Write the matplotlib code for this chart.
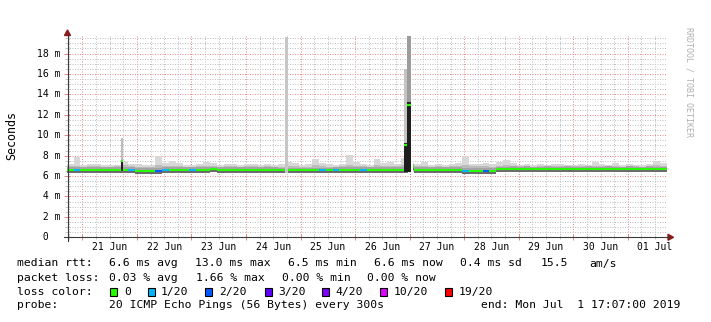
import numpy as np
import matplotlib
matplotlib.use("Agg")
import matplotlib.pyplot as plt
import matplotlib.transforms as mtransforms
from matplotlib.lines import Line2D
from matplotlib.patches import Rectangle, Polygon

# ---------------- data ----------------
start_h = -6.8833          # Jun 20 17:07, hours relative to Jun 21 00:00
bin_h = 3.0                # each value covers 3 hours

median_ms = [
    6.6, 6.6, 6.6, 6.6, 6.6, 6.6, 6.6, 6.6, 6.6, 6.6, 6.5,
    6.5, 6.5, 6.5, 6.6, 6.6, 6.6, 6.6, 6.6, 6.6, 6.6, 6.65,
    6.6, 6.6, 6.6, 6.6, 6.6, 6.6, 6.6, 6.6, 6.6, 6.55, 6.55,
    6.55, 6.55, 6.55, 6.55, 6.55, 6.55, 6.6, 6.6, 6.6, 6.6, 6.6,
    6.6, 6.6, 6.6, 6.6, 6.6, 6.6, 6.85, 6.6, 6.6, 6.6, 6.6,
    6.6, 6.6, 6.6, 6.5, 6.5, 6.5, 6.5, 6.5, 6.65, 6.65, 6.7,
    6.65, 6.7, 6.65, 6.65, 6.7, 6.65, 6.65, 6.7, 6.65, 6.65, 6.7,
    6.65, 6.65, 6.7, 6.65, 6.65, 6.7, 6.65, 6.65, 6.7, 6.65, 6.65,
]
loss_cnt = [
    0, 1, 0, 0, 0, 0, 0, 0, 0, 1, 0,
    0, 0, 2, 1, 0, 0, 0, 1, 0, 0, 0,
    0, 0, 0, 0, 0, 0, 0, 0, 0, 0, 0,
    0, 0, 0, 0, 1, 0, 1, 0, 0, 0, 1,
    0, 0, 0, 0, 0, 0, 0, 0, 0, 0, 0,
    0, 0, 0, 1, 0, 0, 2, 0, 0, 0, 0,
    0, 0, 0, 0, 0, 0, 0, 0, 0, 0, 0,
    0, 0, 0, 0, 0, 0, 0, 0, 0, 0, 0,
]
smoke_lo = [
    6.3, 6.3, 6.3, 6.3, 6.3, 6.3, 6.3, 6.3, 6.3, 6.3, 6.2,
    6.2, 6.2, 6.2, 6.3, 6.3, 6.3, 6.3, 6.3, 6.3, 6.3, 6.35,
    6.3, 6.3, 6.3, 6.3, 6.3, 6.3, 6.3, 6.3, 6.3, 6.25, 6.25,
    6.25, 6.25, 6.25, 6.25, 6.25, 6.25, 6.3, 6.3, 6.3, 6.3, 6.3,
    6.3, 6.3, 6.3, 6.3, 6.3, 6.3, 6.4, 6.3, 6.3, 6.3, 6.3,
    6.3, 6.3, 6.3, 6.2, 6.2, 6.2, 6.2, 6.2, 6.35, 6.35, 6.4,
    6.35, 6.4, 6.35, 6.35, 6.4, 6.35, 6.35, 6.4, 6.35, 6.35, 6.4,
    6.35, 6.35, 6.4, 6.35, 6.35, 6.4, 6.35, 6.35, 6.4, 6.35, 6.35,
]
smoke_mid = [
    6.95, 7.0, 6.9, 6.95, 6.95, 6.9, 6.9, 6.95, 7.05, 6.95, 6.9,
    6.85, 6.9, 7.1, 7.0, 7.0, 6.95, 6.9, 6.9, 6.95, 7.0, 6.95,
    6.9, 6.95, 6.95, 6.9, 6.95, 6.95, 6.9, 6.95, 6.9, 6.9, 7.0,
    6.95, 6.9, 6.9, 7.05, 6.95, 6.9, 6.9, 6.95, 7.1, 7.0, 6.95,
    6.9, 7.05, 6.95, 7.0, 6.95, 7.05, 7.0, 6.95, 7.0, 6.9, 6.95,
    6.9, 6.95, 7.0, 7.1, 6.95, 6.95, 7.0, 6.9, 7.0, 7.05, 7.0,
    6.95, 6.95, 6.9, 6.95, 6.9, 6.95, 6.95, 6.9, 6.95, 6.95, 6.9,
    7.0, 6.95, 6.95, 7.0, 6.9, 6.95, 6.95, 6.9, 6.95, 7.05, 7.0,
]
smoke_hi = [
    7.2, 7.85, 7.1, 7.15, 7.2, 7.1, 7.05, 7.1, 7.5, 7.2, 7.2,
    7.05, 7.1, 8.0, 7.3, 7.5, 7.3, 7.1, 7.1, 7.2, 7.4, 7.3,
    7.1, 7.2, 7.2, 7.1, 7.15, 7.2, 7.1, 7.15, 7.1, 7.2, 7.4,
    7.3, 7.1, 7.15, 7.7, 7.3, 7.2, 7.1, 7.15, 8.1, 7.4, 7.2,
    7.1, 7.7, 7.3, 7.4, 7.2, 7.8, 7.3, 7.2, 7.4, 7.1, 7.15,
    7.1, 7.2, 7.3, 8.0, 7.2, 7.2, 7.3, 7.15, 7.4, 7.6, 7.3,
    7.1, 7.2, 7.1, 7.2, 7.1, 7.15, 7.2, 7.1, 7.1, 7.15, 7.1,
    7.4, 7.2, 7.1, 7.25, 7.1, 7.15, 7.1, 7.1, 7.15, 7.5, 7.3,
]

# short spikes (hours relative to Jun 21 00:00)
ev_start = [17.0, 89.2, 141.5, 142.9]
ev_end = [18.0, 90.4, 142.9, 144.4]
ev_low = [6.5, 6.3, 6.4, 6.4]
ev_median = [7.5, np.nan, 9.07, 13.0]
ev_dark = [7.5, np.nan, 9.2, 13.3]
ev_max = [9.7, 19.6, 16.5, 19.7]

# no-data gap right after the big spike
gap_start = [144.4]
gap_end = [145.3]

day_labels = ["21 Jun", "22 Jun", "23 Jun", "24 Jun", "25 Jun", "26 Jun",
              "27 Jun", "28 Jun", "29 Jun", "30 Jun", "01 Jul"]
y_ticks = [0, 2, 4, 6, 8, 10, 12, 14, 16, 18]

loss_values = [0, 1, 2, 3, 4, 10, 19]
loss_labels = ["0", "1/20", "2/20", "3/20", "4/20", "10/20", "19/20"]
loss_colors = ["#26ff00", "#00b8ff", "#0059ff", "#5e00ff", "#7e00ff", "#dd00ff", "#ff0000"]

rtt_stats = ["6.6 ms avg", "13.0 ms max", "6.5 ms min", "6.6 ms now", "0.4 ms sd", "15.5", "am/s"]
loss_stats = ["0.03 % avg", "1.66 % max", "0.00 % min", "0.00 % now"]
probe_text = "20 ICMP Echo Pings (56 Bytes) every 300s"
end_text = "end: Mon Jul  1 17:07:00 2019"

# ---------------- figure ----------------
W, H = 711, 322
fig = plt.figure(figsize=(W / 100, H / 100), dpi=100)
fig.patch.set_facecolor("white")
MONO = "DejaVu Sans Mono"


def fx(px):
    return px / W


def fy(py):
    return 1 - py / H


x0_px, y0_px, ytop_px = 66.7, 237.3, 36.2
ax = fig.add_axes([fx(x0_px), fy(y0_px), 600 / W, (y0_px - ytop_px) / H])
n = len(median_ms)
edges = start_h + bin_h * np.arange(n + 1)
ax.set_xlim(edges[0], edges[-1])
ax.set_ylim(0, 19.7)
for s in ax.spines.values():
    s.set_visible(False)

# grid
ax.set_xticks(np.arange(0, 241, 24))
ax.set_xticks(np.arange(-6, 258, 6), minor=True)
ax.set_yticks(y_ticks)
ax.set_yticks(np.arange(0, 19.7, 0.5), minor=True)
ax.tick_params(labelleft=False, labelbottom=False)
ax.tick_params(which="major", direction="inout", length=4, width=0.72, color="#e08a8a")
ax.tick_params(which="minor", direction="inout", length=3, width=0.72, color="#c8c8c8")
ax.grid(which="minor", color="#c0c0c0", linestyle=(0, (1, 1.5)), linewidth=0.72, zorder=0)
ax.grid(which="major", color="#ec8c8c", linestyle=(0, (1, 1.5)), linewidth=0.72, zorder=0)
ax.set_axisbelow(True)

# smoke
lo = np.array(smoke_lo + [smoke_lo[-1]])
mid = np.array(smoke_mid + [smoke_mid[-1]])
hi = np.array(smoke_hi + [smoke_hi[-1]])
ax.fill_between(edges, lo, hi, step="post", color="#d8d8d8", lw=0, zorder=2)
ax.fill_between(edges, lo, mid, step="post", color="#bcbcbc", lw=0, zorder=3)

med = np.array(median_ms)
px = 1 / 100
shadow_dn = ax.transData + mtransforms.ScaledTranslation(0, -1.9 * px, fig.dpi_scale_trans)
shadow_up = ax.transData + mtransforms.ScaledTranslation(0, 1.9 * px, fig.dpi_scale_trans)
ax.hlines(med, edges[:-1], edges[1:], colors="#6a6a6a", lw=1.4, transform=shadow_dn, zorder=4)
ax.hlines(med, edges[:-1], edges[1:], colors="#a0a0a0", lw=1.2, transform=shadow_up, zorder=4)

cmap = dict(zip(loss_values, loss_colors))
seg_colors = [cmap[c] for c in loss_cnt]
ax.hlines(med, edges[:-1], edges[1:], colors=seg_colors, lw=1.45, zorder=6)

# spikes
ev_light = ["#bcbcbc", "#c6c6c6", "#c4c4c4", "#9c9c9c"]
for s, e, l, m, d, mx, lc in zip(ev_start, ev_end, ev_low, ev_median, ev_dark, ev_max, ev_light):
    ax.fill_between([s, e], [l, l], [mx, mx], color=lc, lw=0, zorder=7)
    if not np.isnan(d):
        ax.fill_between([s, e], [l, l], [d, d], color="#1e1e1e", lw=0, zorder=8)
    if not np.isnan(m):
        ax.hlines([m], [s], [e], colors=loss_colors[0], lw=1.6, zorder=9)
for s, e in zip(gap_start, gap_end):
    ax.axvspan(s, e, ymin=0.3, ymax=0.375, color="white", lw=0, zorder=9)

# axes lines and arrows
arrow_c = "#8b1a1a"
fig.add_artist(Line2D([fx(67.5), fx(67.5)], [fy(240.5), fy(35)], color="#3a3a3a", lw=0.8))
fig.add_artist(Line2D([fx(63.5), fx(669)], [fy(237.3), fy(237.3)], color="#3a3a3a", lw=0.8))
fig.add_artist(Polygon([(fx(64.5), fy(35.5)), (fx(70.5), fy(35.5)), (fx(67.5), fy(30))],
                       closed=True, color=arrow_c, transform=fig.transFigure))
fig.add_artist(Polygon([(fx(668), fy(234.3)), (fx(668), fy(240.3)), (fx(673.5), fy(237.3))],
                       closed=True, color=arrow_c, transform=fig.transFigure))

# tick labels
ytr = mtransforms.blended_transform_factory(fig.transFigure, ax.transData)
for v in y_ticks:
    lab = f"{v:2d} m" if v else " 0"
    ax.text(fx(37.2), v, lab, transform=ytr, ha="left", va="center",
            fontsize=7, family=MONO, color="#000000")
xtr = mtransforms.blended_transform_factory(ax.transData, fig.transFigure)
for i, lab in enumerate(day_labels):
    ax.text(12 + 24 * i, fy(246.5), lab, transform=xtr, ha="center", va="center",
            fontsize=7, family=MONO, color="#000000")

fig.text(fx(12), fy(136), "Seconds", rotation=90, ha="center", va="center",
         fontsize=8.4, family=MONO)
fig.text(fx(689), fy(27), "RRDTOOL / TOBI OETIKER", rotation=270, ha="center", va="top",
         fontsize=6, family=MONO, color="#b0b0b0")

# legend / stats
LF = 8.2
rows_y = [263.5, 278, 292, 305.5]


def put(xp, row, s):
    fig.text(fx(xp), fy(rows_y[row]), s, ha="left", va="center", fontsize=LF, family=MONO)


put(17, 0, "median rtt:")
for xp, s in zip([109, 195, 288, 374, 460, 541, 589], rtt_stats):
    put(xp, 0, s)
put(17, 1, "packet loss:")
for xp, s in zip([109, 195.5, 282, 367], loss_stats):
    put(xp, 1, s)
put(17, 2, "loss color:")
box_x = [110, 148, 205, 264.5, 322, 380, 445]
lab_x = [124, 161, 219, 278, 335.5, 393.6, 459]
for bx, lx, c, s in zip(box_x, lab_x, loss_colors, loss_labels):
    fig.add_artist(Rectangle((fx(bx), fy(rows_y[2] + 4)), 7 / W, 8 / H, facecolor=c,
                             edgecolor="black", lw=0.8, transform=fig.transFigure))
    put(lx, 2, s)
put(17, 3, "probe:")
put(109, 3, probe_text)
put(481, 3, end_text)

fig.savefig("out.png", dpi=100)
